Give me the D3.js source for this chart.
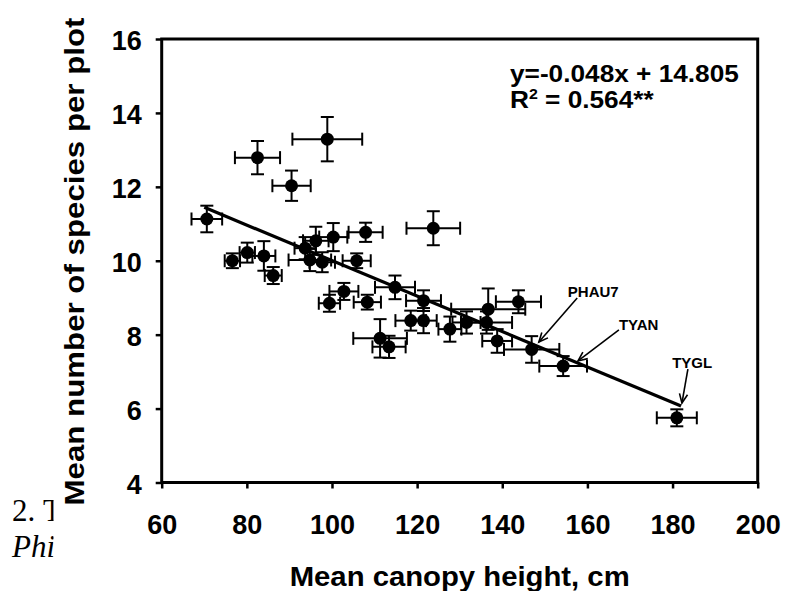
<!DOCTYPE html>
<html><head><meta charset="utf-8">
<script src="https://cdn.jsdelivr.net/npm/d3@7"></script>
<style>body{margin:0;background:#fff}svg{display:block}</style>
</head><body>
<svg id="c" width="785" height="591"></svg>
<script>
// Mean canopy height (cm) and its error
const canopyHeight = [82.5, 98.9, 90.5, 70.6, 107.9, 123.8, 76.6, 80.1, 84.0, 86.2, 93.7, 96.2, 100.3, 94.8, 97.7, 105.8, 102.8, 99.4, 108.3, 114.8, 121.5, 118.5, 121.5, 111.3, 113.4, 127.7, 131.6, 136.7, 136.3, 143.8, 138.8, 146.9, 154.3, 181.0];
const canopyErr    = [5.3, 8.2, 4.5, 3.6, 4.0, 6.3, 1.8, 1.8, 2.7, 2.0, 2.5, 3.0, 3.3, 5.0, 3.0, 3.3, 3.4, 2.5, 3.2, 4.7, 4.1, 3.6, 3.1, 6.3, 3.9, 2.7, 3.3, 8.7, 6.0, 5.3, 3.5, 6.5, 5.6, 4.7];
// Mean number of species per plot and its error
const species      = [12.79, 13.29, 12.03, 11.13, 10.77, 10.88, 10.0, 10.22, 10.13, 9.6, 10.34, 10.54, 10.64, 10.02, 9.96, 10.0, 9.17, 8.85, 8.88, 9.28, 8.92, 8.38, 8.38, 7.9, 7.67, 8.15, 8.33, 8.69, 8.33, 8.89, 7.83, 7.6, 7.15, 5.75];
const speciesErr   = [0.45, 0.6, 0.41, 0.36, 0.26, 0.46, 0.2, 0.27, 0.4, 0.23, 0.3, 0.38, 0.38, 0.3, 0.27, 0.2, 0.23, 0.23, 0.2, 0.32, 0.28, 0.27, 0.34, 0.52, 0.3, 0.34, 0.3, 0.56, 0.3, 0.31, 0.32, 0.36, 0.27, 0.23];

const xTicks = [60, 80, 100, 120, 140, 160, 180, 200];
const yTicks = [4, 6, 8, 10, 12, 14, 16];

const fitSlope = -0.048, fitIntercept = 14.805, fitRange = [70, 182];
const equationText = "y=-0.048x + 14.805";
const r2Text = " = 0.564**";

// annotation labels (in data units): label anchor, arrow start, arrow tip
const annLabels = ["PHAU7", "TYAN", "TYGL"];
const annLabelX = [155.4, 167.4, 179.9];
const annLabelY = [9.02, 8.13, 7.10];
const annFromX  = [157.6, 167.4, 183.6];
const annFromY  = [8.99, 8.13, 7.07];
const annToX    = [148.6, 157.8, 182.2];
const annToY    = [7.80, 7.29, 6.15];

const svg = d3.select("#c");
const sans = "'Liberation Sans', Arial, Helvetica, sans-serif";

// background caption text partially covered by the chart
svg.append("clipPath").attr("id","cap").append("rect")
  .attr("x",0).attr("y",470).attr("width",53.5).attr("height",121);
const cap = svg.append("g").attr("clip-path","url(#cap)")
  .style("font-family","'Liberation Serif','Times New Roman',serif").style("font-size","31px");
cap.append("text").attr("x",12).attr("y",521).text("2.\u00a0T");
cap.append("text").attr("x",12).attr("y",557).style("font-style","italic").text("Phi");

const x = d3.scaleLinear().domain([60,200]).range([161.7,757.7]);
const y = d3.scaleLinear().domain([4,16]).range([482.5,39]);

// axes
const gx = svg.append("g").attr("transform",`translate(0,${y(4)})`)
  .call(d3.axisBottom(x).tickValues(xTicks).tickFormat(d3.format("d")).tickSize(6).tickPadding(26));
const gy = svg.append("g").attr("transform",`translate(${x(60)},0)`)
  .call(d3.axisLeft(y).tickValues(yTicks).tickFormat(d3.format("d")).tickSize(6).tickPadding(14));
[gx,gy].forEach(g=>{
  g.select(".domain").remove();
  g.selectAll(".tick line").attr("stroke","#000").attr("stroke-width",2.5);
  g.selectAll(".tick text").attr("fill","#000")
    .style("font-family",sans).style("font-weight","bold").style("font-size","27px");
});
gy.selectAll(".tick text").attr("dy","0.4em");

// frame
svg.append("rect").attr("x",x(60)).attr("y",y(16))
  .attr("width",x(200)-x(60)).attr("height",y(4)-y(16))
  .attr("fill","none").attr("stroke","#000").attr("stroke-width",3);

// titles
svg.append("text").attr("x",(x(60)+x(200))/2).attr("y",586)
  .attr("text-anchor","middle").attr("textLength",340).attr("lengthAdjust","spacingAndGlyphs")
  .style("font-family",sans).style("font-weight","bold").style("font-size","28px")
  .text("Mean canopy height, cm");
svg.append("text").attr("transform","translate(84,261.5) rotate(-90)")
  .attr("text-anchor","middle").attr("textLength",488).attr("lengthAdjust","spacingAndGlyphs")
  .style("font-family",sans).style("font-weight","bold").style("font-size","27px")
  .text("Mean number of species per plot");

// regression line
svg.append("line")
  .attr("x1",x(fitRange[0])).attr("y1",y(fitSlope*fitRange[0]+fitIntercept))
  .attr("x2",x(fitRange[1])).attr("y2",y(fitSlope*fitRange[1]+fitIntercept))
  .attr("stroke","#000").attr("stroke-width",3.2);

// points with error bars
const data = canopyHeight.map((h,i)=>({h, he:canopyErr[i], s:species[i], se:speciesErr[i]}));
const cap2 = 6.5;
const pts = svg.append("g").attr("stroke","#000").attr("stroke-width",2);
const pg = pts.selectAll("g").data(data).join("g");
pg.append("line").attr("x1",d=>x(d.h-d.he)).attr("x2",d=>x(d.h+d.he)).attr("y1",d=>y(d.s)).attr("y2",d=>y(d.s));
pg.append("line").attr("x1",d=>x(d.h-d.he)).attr("x2",d=>x(d.h-d.he)).attr("y1",d=>y(d.s)-cap2).attr("y2",d=>y(d.s)+cap2);
pg.append("line").attr("x1",d=>x(d.h+d.he)).attr("x2",d=>x(d.h+d.he)).attr("y1",d=>y(d.s)-cap2).attr("y2",d=>y(d.s)+cap2);
pg.append("line").attr("x1",d=>x(d.h)).attr("x2",d=>x(d.h)).attr("y1",d=>y(d.s-d.se)).attr("y2",d=>y(d.s+d.se));
pg.append("line").attr("x1",d=>x(d.h)-cap2).attr("x2",d=>x(d.h)+cap2).attr("y1",d=>y(d.s+d.se)).attr("y2",d=>y(d.s+d.se));
pg.append("line").attr("x1",d=>x(d.h)-cap2).attr("x2",d=>x(d.h)+cap2).attr("y1",d=>y(d.s-d.se)).attr("y2",d=>y(d.s-d.se));
pg.append("circle").attr("cx",d=>x(d.h)).attr("cy",d=>y(d.s)).attr("r",6.5).attr("fill","#000").attr("stroke","none");

// equation
const eq = svg.append("g").attr("transform","translate(510,82) scale(1.14,1)")
  .style("font-family",sans).style("font-weight","bold").style("font-size","23px");
eq.append("text").attr("x",0).attr("y",0).text(equationText);
const r2 = eq.append("text").attr("x",0).attr("y",26.5);
r2.append("tspan").text("R");
r2.append("tspan").attr("dy",-9).style("font-size","14px").text("2");
r2.append("tspan").attr("dy",9).text(r2Text);

// annotations
const ann = svg.append("g");
annLabels.forEach((lab,i)=>{
  ann.append("text").attr("x",x(annLabelX[i])).attr("y",y(annLabelY[i]))
    .style("font-family",sans).style("font-weight","bold").style("font-size","15px").text(lab);
  const x1=x(annFromX[i]), y1=y(annFromY[i]), x2=x(annToX[i]), y2=y(annToY[i]);
  ann.append("line").attr("x1",x1).attr("y1",y1).attr("x2",x2).attr("y2",y2)
    .attr("stroke","#000").attr("stroke-width",1.6);
  const a=Math.atan2(y2-y1,x2-x1), L=10, w=0.42;
  const p = `M${x2-L*Math.cos(a-w)},${y2-L*Math.sin(a-w)}L${x2},${y2}L${x2-L*Math.cos(a+w)},${y2-L*Math.sin(a+w)}`;
  ann.append("path").attr("d",p).attr("fill","none").attr("stroke","#000").attr("stroke-width",1.6);
});
</script>
</body></html>
